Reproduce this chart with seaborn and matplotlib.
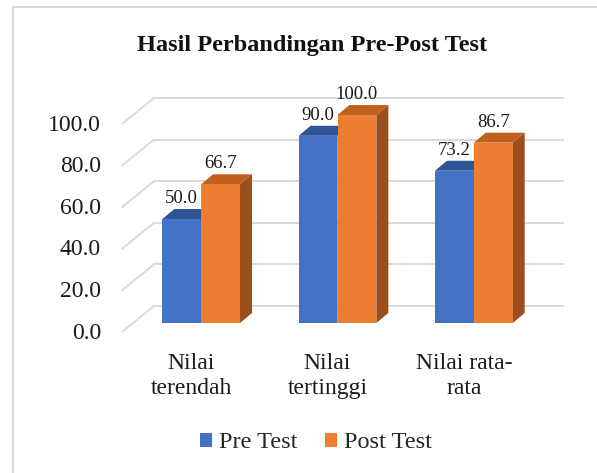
import numpy as np
import pandas as pd
import matplotlib
matplotlib.use("Agg")
import matplotlib.pyplot as plt
from matplotlib.patches import Polygon, Rectangle
import seaborn as sns

# data
categories = ["Nilai\nterendah", "Nilai\ntertinggi", "Nilai rata-\nrata"]
series = ["Pre Test", "Post Test"]
pre_test = [50.0, 90.0, 73.2]
post_test = [66.7, 100.0, 86.7]
y_ticks = [0, 20, 40, 60, 80, 100]

colors = ["#4472C4", "#ED7D31"]
top_colors = ["#2F5597", "#C0601F"]
side_colors = ["#2A4A85", "#9C4E1C"]
grid_color = "#D9D9D9"

df = pd.DataFrame({
    "kategori": categories * 2,
    "tes": [series[0]] * 3 + [series[1]] * 3,
    "nilai": pre_test + post_test,
})

sns.set_style("white")
plt.rcParams["font.family"] = ["Liberation Serif", "DejaVu Serif"]

W, H = 597, 473
fig = plt.figure(figsize=(W / 100, H / 100), dpi=100)
fig.patch.set_facecolor("white")
# axes = front plane of the bars
ax = fig.add_axes([133 / W, 150 / H, 409 / W, 208 / H])

sns.barplot(data=df, x="kategori", y="nilai", hue="tes", order=categories,
            hue_order=series, palette=colors, width=0.57, saturation=1,
            linewidth=0, legend=False, zorder=3, ax=ax)
ax.set_xlim(-0.5, 2.5)
ax.set_ylim(0, 100)
ax.axis("off")

# pixel -> data units
px_x = 409 / 3
px_y = 208 / 100

# back wall grid + floor diagonals
bx, by = 21 / px_x, 17 / px_y
fx, fy = -11 / px_x, -9 / px_y
for v in y_ticks:
    ax.plot([-0.5 + bx, 2.5 + bx], [v + by, v + by], color=grid_color,
            lw=1.4, zorder=1, clip_on=False)
    ax.plot([-0.5 + fx, -0.5 + bx], [v + fy, v + by], color=grid_color,
            lw=1.4, zorder=1, clip_on=False)
    ax.text(-0.5 - 32 / px_x, v - 10 / px_y, f"{v:.1f}", ha="right",
            va="center", fontsize=17, color="#1a1a1a")

# fake 3d tops and sides
dx, dy = 12 / px_x, 10 / px_y
for i, cont in enumerate(ax.containers):
    for bar in cont:
        x0 = bar.get_x()
        x1 = x0 + bar.get_width()
        h = bar.get_height()
        ax.add_patch(Polygon([(x0, h), (x0 + dx, h + dy), (x1 + dx, h + dy), (x1, h)],
                             closed=True, facecolor=top_colors[i], edgecolor="none",
                             zorder=2, clip_on=False))
        ax.add_patch(Polygon([(x1, 0), (x1 + dx, dy), (x1 + dx, h + dy), (x1, h)],
                             closed=True, facecolor=side_colors[i], edgecolor="none",
                             zorder=2, clip_on=False))
    ax.bar_label(cont, fmt="%.1f", padding=8.5, fontsize=13.5, color="#1a1a1a")

# category labels
for i, lab in enumerate(categories):
    ax.text(i - 10 / px_x, -53 / px_y, lab, ha="center", va="center",
            fontsize=17, linespacing=1.3, color="#1a1a1a")

fig.text(312 / W, 1 - 45 / H, "Hasil Perbandingan Pre-Post Test", ha="center",
         va="center", fontsize=17.5, fontweight="bold", color="#111111")

handles = [Rectangle((0, 0), 1, 1, facecolor=c, edgecolor="none") for c in colors]
fig.legend(handles, series, loc="center", bbox_to_anchor=(316 / W, 1 - 443 / H),
           ncol=2, frameon=False, fontsize=17.5, handlelength=0.5, handleheight=0.5,
           handletextpad=0.3, columnspacing=1.1)

# chart area border
fig.add_artist(Rectangle((13 / W, -0.1), 1.2, 1 - 7 / H + 0.1, transform=fig.transFigure,
                         fill=False, edgecolor=grid_color, lw=1.5))

fig.savefig("out.png", dpi=100)
